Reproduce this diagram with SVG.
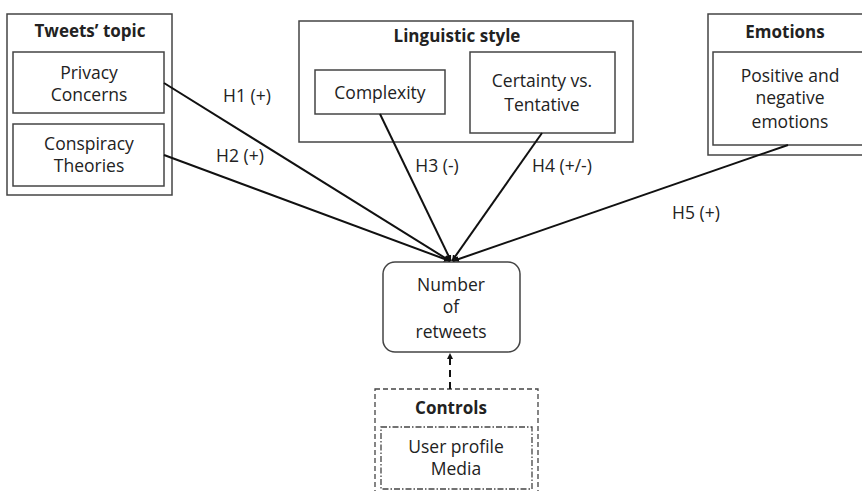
<svg xmlns="http://www.w3.org/2000/svg" width="862" height="491" viewBox="0 0 862 491">
<style>
text{font-family:"Open Sans","Liberation Sans",sans-serif;font-size:17.5px;fill:#222;text-anchor:middle}
.t{font-weight:bold;font-size:17px}
.box{fill:#fff;stroke:#444;stroke-width:1.5}
.c{stroke:#111;stroke-width:2;fill:none}
</style>
<defs>
<marker id="ah" viewBox="0 0 10 10" refX="10" refY="5" markerWidth="3" markerHeight="3" orient="auto">
<path d="M0,0 L10,5 L0,10 z" fill="#111"/>
</marker>
</defs>
<g id="topic">
<rect class="box" x="7" y="14" width="165" height="181"/>
<text class="t" x="90" y="37">Tweets’ topic</text>
</g>
<g id="privacy">
<rect class="box" x="13" y="52" width="151" height="61"/>
<text x="89" y="78.5">Privacy</text>
<text x="89" y="100.5">Concerns</text>
</g>
<g id="conspiracy">
<rect class="box" x="13" y="124" width="151" height="62"/>
<text x="89" y="150">Conspiracy</text>
<text x="89" y="172">Theories</text>
</g>
<g id="linguistic">
<rect class="box" x="299" y="21" width="334" height="121"/>
<text class="t" x="457" y="42">Linguistic style</text>
</g>
<g id="complexity">
<rect class="box" x="315" y="70" width="130" height="44"/>
<text x="380" y="99">Complexity</text>
</g>
<g id="certainty">
<rect class="box" x="470" y="52" width="145" height="81"/>
<text x="542" y="87">Certainty vs.</text>
<text x="542" y="111">Tentative</text>
</g>
<g id="emotions">
<rect class="box" x="708" y="14" width="160" height="141"/>
<text class="t" x="785" y="38">Emotions</text>
</g>
<g id="posneg">
<rect class="box" x="713" y="52" width="155" height="93"/>
<text x="790" y="82">Positive and</text>
<text x="790" y="104">negative</text>
<text x="790" y="128">emotions</text>
</g>
<g id="retweets">
<rect class="box" x="383" y="262" width="137" height="90" rx="12"/>
<text x="451" y="291">Number</text>
<text x="451" y="313">of</text>
<text x="451" y="338">retweets</text>
</g>
<g id="controls">
<rect x="375" y="389" width="163" height="110" fill="#fff" stroke="#444" stroke-width="1.3" stroke-dasharray="5,3"/>
<text class="t" x="451" y="414">Controls</text>
<rect x="381" y="427" width="151" height="62" fill="#fff" stroke="#444" stroke-width="1.3" stroke-dasharray="6,2,1.5,2"/>
<text x="456" y="453">User profile</text>
<text x="456" y="475">Media</text>
</g>
<g id="connectors">
<line class="c" x1="164" y1="83" x2="450" y2="261" marker-end="url(#ah)"/>
<line class="c" x1="164" y1="155" x2="450" y2="261" marker-end="url(#ah)"/>
<line class="c" x1="380" y1="114" x2="451" y2="261" marker-end="url(#ah)"/>
<line class="c" x1="542" y1="133" x2="452" y2="261" marker-end="url(#ah)"/>
<line class="c" x1="788" y1="145" x2="453" y2="261" marker-end="url(#ah)"/>
<line class="c" x1="450" y1="389" x2="450" y2="353" stroke-dasharray="7,5" marker-end="url(#ah)"/>
<text x="247" y="102">H1 (+)</text>
<text x="240" y="162">H2 (+)</text>
<text x="437" y="172">H3 (-)</text>
<text x="562" y="172">H4 (+/-)</text>
<text x="696" y="219">H5 (+)</text>
</g>
</svg>
